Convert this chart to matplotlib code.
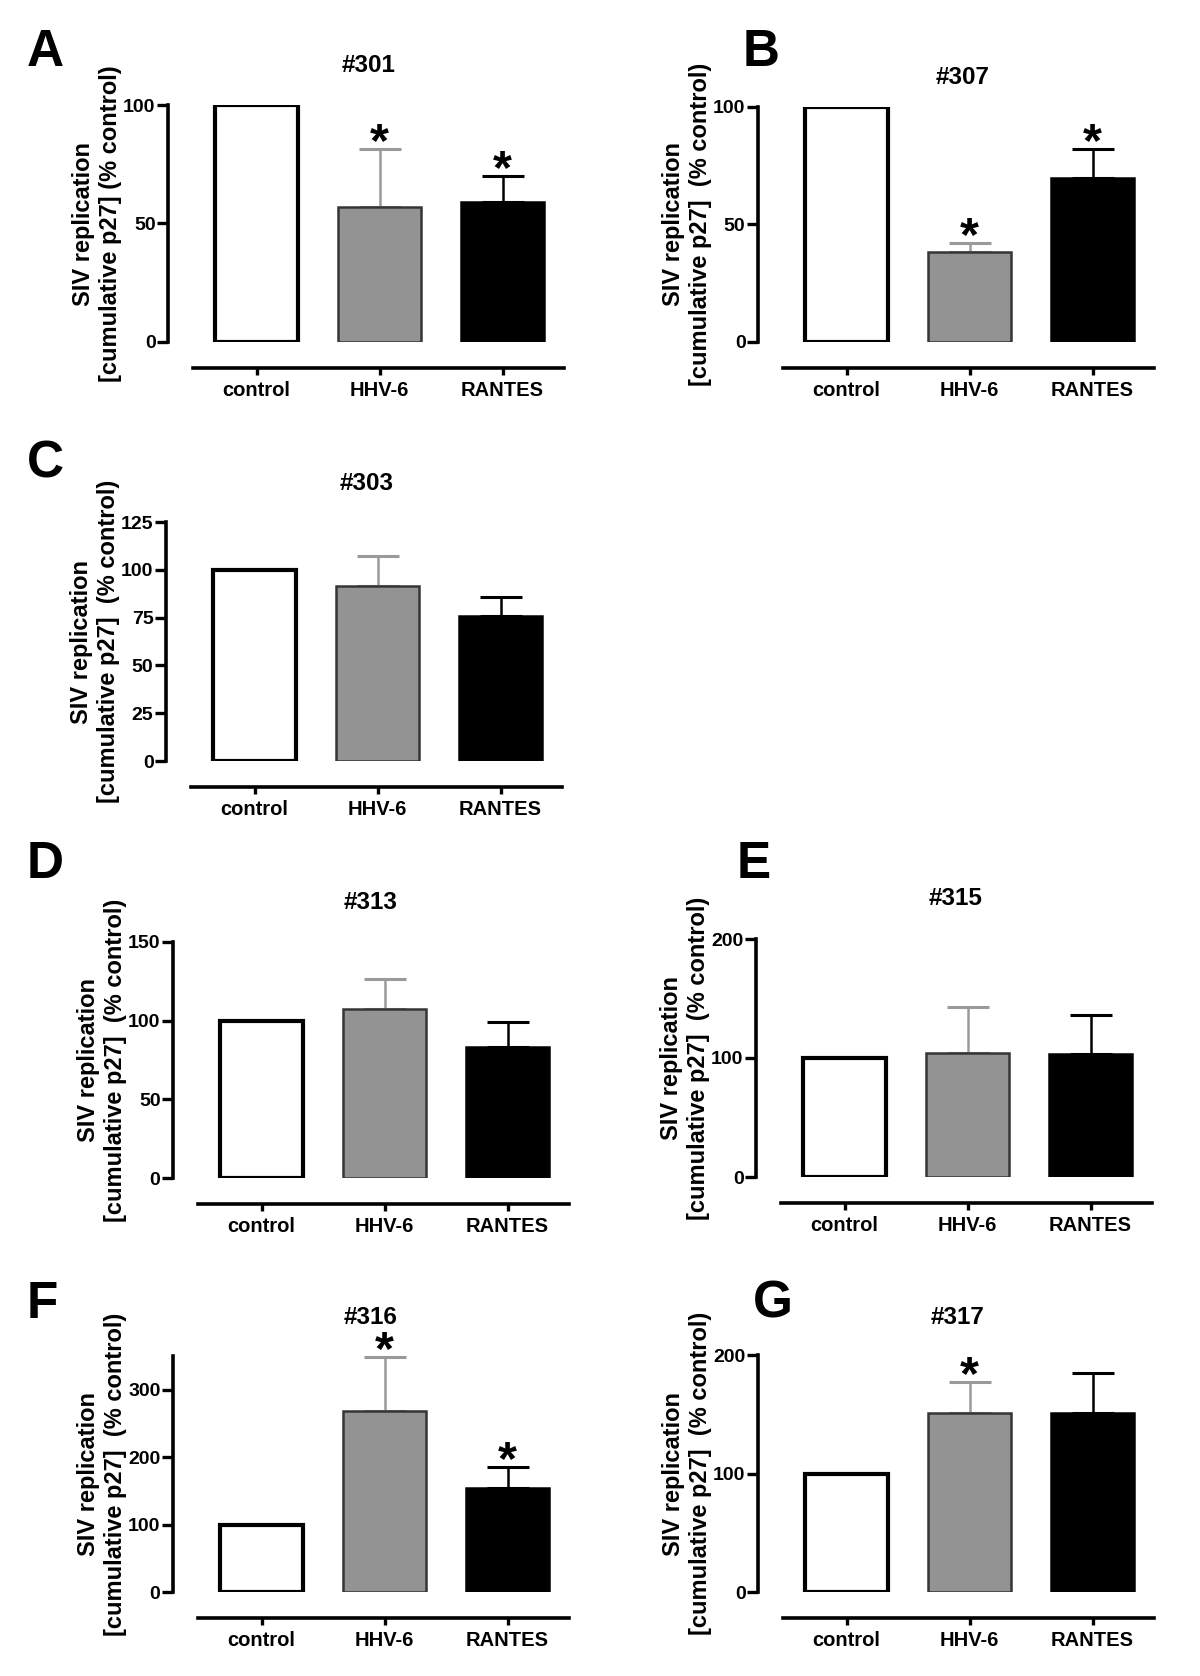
import numpy as np
import matplotlib
matplotlib.use('Agg')
import matplotlib.pyplot as plt

plt.rcParams['font.family'] = ['Liberation Sans', 'DejaVu Sans']
plt.rcParams['font.weight'] = 'bold'

# data
categories = ['control', 'HHV-6', 'RANTES']

letters = ['A', 'B', 'C', 'D', 'E', 'F', 'G']
titles = ['#301', '#307', '#303', '#313', '#315', '#316', '#317']

means_A = [100, 57, 59]
means_B = [100, 38.3, 69.8]
means_C = [100, 91.6, 76]
means_D = [100, 107.3, 83]
means_E = [100, 104.3, 103.2]
means_F = [100, 268, 153.5]
means_G = [100, 150.7, 150.7]

err_A = [0, 24.4, 11]
err_B = [0, 3.7, 12.2]
err_C = [0, 15.7, 9.7]
err_D = [0, 19.3, 16.4]
err_E = [0, 38.7, 33.1]
err_F = [0, 80, 31.5]
err_G = [0, 26.8, 34.3]

stars_A = [1, 2]
stars_B = [1, 2]
stars_C = []
stars_D = []
stars_E = []
stars_F = [1, 2]
stars_G = [1]

ymax_list = [100, 100, 125, 150, 200, 350, 200]
yticks_list = [[0, 50, 100], [0, 50, 100], [0, 25, 50, 75, 100, 125],
               [0, 50, 100, 150], [0, 100, 200], [0, 100, 200, 300], [0, 100, 200]]

all_means = [means_A, means_B, means_C, means_D, means_E, means_F, means_G]
all_err = [err_A, err_B, err_C, err_D, err_E, err_F, err_G]
all_stars = [stars_A, stars_B, stars_C, stars_D, stars_E, stars_F, stars_G]

ylab_A = 'SIV replication\n[cumulative p27] (% control)'
ylab = 'SIV replication\n[cumulative p27]  (% control)'

# layout in pixels (figure 1200 x 1676)
W, H = 1200, 1676
spine_x = [168, 758, 166, 173, 756, 173, 758]
y_zero = [342, 342, 761, 1178, 1177, 1592, 1592]
y_top = [105, 107, 522, 942, 939, 1356, 1355]
title_xy = [(369, 65), (963, 77), (367, 483), (371, 902), (956, 898), (371, 1317), (958, 1317)]
letter_xy = [(27, 66), (743, 66), (27, 477), (27, 878), (737, 878), (27, 1318), (753, 1318)]

xmin, xmax = -0.72, 2.5
spacing = 123
ax_w = (xmax - xmin) * spacing

face = ['white', '#939393', 'black']
edge = ['black', '#353535', 'black']
ecol = ['black', '#9a9a9a', 'black']
lw = [3.0, 1.8, 1.8]

fig = plt.figure(figsize=(12, 16.76), dpi=100)

for i in range(7):
    left = spine_x[i] / W
    bottom = 1 - y_zero[i] / H
    height = (y_zero[i] - y_top[i]) / H
    ax = fig.add_axes([left, bottom, ax_w / W, height])

    x = np.arange(len(categories))
    m = all_means[i]
    e = all_err[i]
    for j in range(3):
        ax.bar(x[j], m[j], width=0.68, color=face[j], edgecolor=edge[j],
               linewidth=lw[j], zorder=3)
        if e[j] > 0:
            ax.errorbar(x[j], m[j], yerr=[[0], [e[j]]], fmt='none', ecolor=ecol[j],
                        elinewidth=1.8, capsize=15, capthick=2.2, zorder=2, clip_on=False)
    for j in all_stars[i]:
        ax.annotate('*', xy=(x[j], m[j] + e[j]), xytext=(0, 4), textcoords='offset points',
                    ha='center', va='center', fontsize=35, fontweight='bold')

    ax.set_xlim(xmin, xmax)
    ax.set_ylim(0, ymax_list[i])
    ax.set_yticks(yticks_list[i])
    ax.set_xticks(x)
    ax.set_xticklabels(categories)

    ax.spines['top'].set_visible(False)
    ax.spines['right'].set_visible(False)
    ax.spines['left'].set_linewidth(2.6)
    ax.spines['bottom'].set_linewidth(2.6)
    ax.spines['bottom'].set_position(('outward', 19))
    ax.spines['bottom'].set_bounds(-0.52, 2.5)
    ax.spines['left'].set_bounds(0, ymax_list[i])

    ax.tick_params(axis='y', length=8, width=2.4, pad=1, labelsize=14)
    ax.tick_params(axis='x', length=5, width=2.4, pad=4, labelsize=14.5)
    for t in ax.get_xticklabels() + ax.get_yticklabels():
        t.set_fontweight('bold')

    ax.set_ylabel(ylab_A if i == 0 else ylab, fontsize=17, fontweight='bold', linespacing=1.2)
    ax.yaxis.set_label_coords(-46 / ax_w, 0.5)

    fig.text(title_xy[i][0] / W, 1 - title_xy[i][1] / H, titles[i], ha='center', va='center',
             fontsize=17.5, fontweight='bold')
    fig.text(letter_xy[i][0] / W, 1 - letter_xy[i][1] / H, letters[i], ha='left', va='baseline',
             fontsize=37, fontweight='bold')

fig.savefig('out.png', dpi=100, facecolor='white')
